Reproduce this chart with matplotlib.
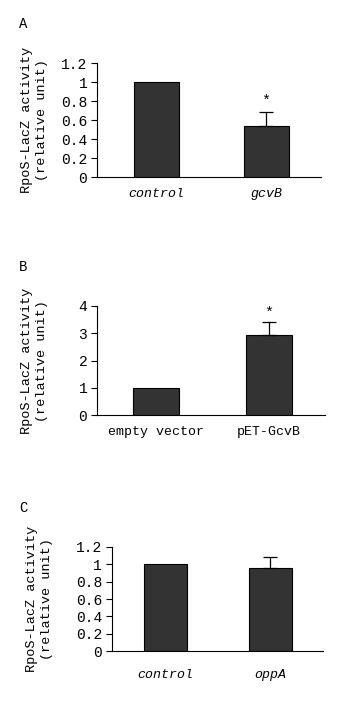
import matplotlib
matplotlib.use("Agg")
import matplotlib.pyplot as plt

plt.rcParams['font.family'] = ['Liberation Mono', 'DejaVu Sans']

# panel A
a_labels = ['control', 'gcvB']
a_values = [1.0, 0.54]
a_errors = [0.0, 0.15]
a_ticks = [0, 0.2, 0.4, 0.6, 0.8, 1.0, 1.2]
a_ticklabels = ['0', '0.2', '0.4', '0.6', '0.8', '1', '1.2']

# panel B
b_labels = ['empty vector', 'pET-GcvB']
b_values = [1.0, 2.92]
b_errors = [0.0, 0.48]
b_ticks = [0, 1, 2, 3, 4]
b_ticklabels = ['0', '1', '2', '3', '4']

# panel C
c_labels = ['control', 'oppA']
c_values = [1.0, 0.96]
c_errors = [0.0, 0.12]
c_ticks = a_ticks
c_ticklabels = a_ticklabels

ylabel = 'RpoS-LacZ activity\n(relative unit)'

fig = plt.figure(figsize=(3.41, 7.01), dpi=100)

panels = [
    # rect, letter, labels, values, errs, ticks, ticklabels, ymax, xlim, italic, star, xpad, labelx
    ([0.2845, 0.747, 0.657, 0.163], 'A', a_labels, a_values, a_errors, a_ticks, a_ticklabels, 1.2, (-0.54, 1.5), True, 0.8, 8, -0.22),
    ([0.2845, 0.4076, 0.668, 0.156], 'B', b_labels, b_values, b_errors, b_ticks, b_ticklabels, 4, (-0.53, 1.5), False, 3.75, 8, -0.215),
    ([0.328, 0.0709, 0.618, 0.149], 'C', c_labels, c_values, c_errors, c_ticks, c_ticklabels, 1.2, (-0.51, 1.5), True, None, 13, -0.28),
]

for rect, letter, labels, values, errs, ticks, ticklabels, ymax, xlim, italic, star, xpad, labelx in panels:
    ax = fig.add_axes(rect)
    x = list(range(len(values)))
    ax.bar(x, values, width=0.41, color='#333333', edgecolor='black', linewidth=0.8)
    for xi, v, e in zip(x, values, errs):
        if e > 0:
            ax.errorbar(xi, v, yerr=[[0], [e]], fmt='none', ecolor='black',
                        elinewidth=0.9, capsize=5, capthick=0.9)
    if star is not None:
        ax.text(1, star, '*', ha='center', va='center', fontsize=11)
    ax.set_xlim(*xlim)
    ax.set_ylim(0, ymax)
    ax.set_yticks(ticks)
    ax.set_yticklabels(ticklabels, fontsize=10.5)
    ax.set_xticks(x)
    ax.set_xticklabels(labels, fontsize=9.5, style='italic' if italic else 'normal')
    ax.tick_params(axis='x', length=0, pad=xpad)
    ax.tick_params(axis='y', length=4, width=0.8, direction='out', pad=3)
    ax.spines['top'].set_visible(False)
    ax.spines['right'].set_visible(False)
    for s in ['left', 'bottom']:
        ax.spines[s].set_linewidth(0.8)
    ax.set_ylabel(ylabel, fontsize=9.7, linespacing=1.35)
    ax.yaxis.set_label_coords(labelx, 0.5)
    bbox = ax.get_position()
    fig.text(0.055, bbox.y1 + 0.056, letter, fontsize=10, ha='left', va='center')

fig.savefig('out.png', dpi=100)
